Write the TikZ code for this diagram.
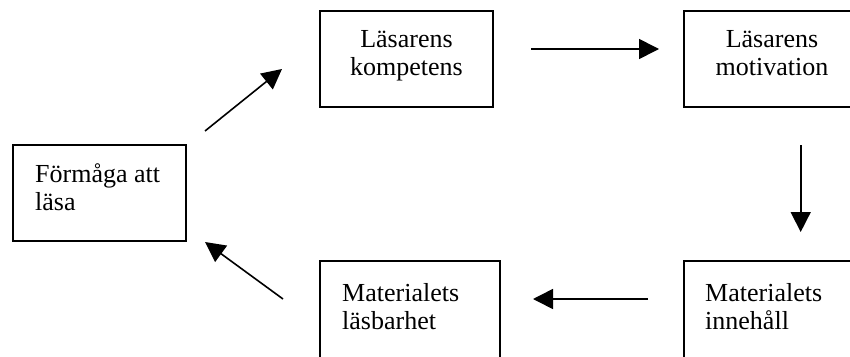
\documentclass[tikz,border=0pt]{standalone}
\usepackage{fontspec}
\setmainfont{Liberation Serif}
\usetikzlibrary{arrows.meta}
\begin{document}
\begin{tikzpicture}[x=1pt,y=-1pt,
  box/.style={draw=black,line width=1.8pt},
  lbl/.style={inner sep=0pt,font=\fontsize{26}{28}\selectfont},
  conn/.style={draw=black,line width=1.6pt,-{Triangle[length=20pt,width=20pt]}}]
\useasboundingbox[fill=white] (0,0) rectangle (850,356);
\clip (0,0) rectangle (850,356);
% boxes
\draw[box] (13,145) rectangle (186,241) node[pos=0.5,inner sep=0pt] (A) {};
\draw[box] (320,11) rectangle (493,107) node[pos=0.5,inner sep=0pt] (B) {};
\draw[box] (684,11) rectangle (860,107) node[pos=0.5,inner sep=0pt] (C) {};
\draw[box] (320,261) rectangle (500,380) node[pos=0.5,inner sep=0pt] (D) {};
\draw[box] (684,261) rectangle (860,380) node[pos=0.5,inner sep=0pt] (E) {};
% labels (anchor base = baseline of the last line)
\node[lbl,anchor=base west,align=left] (tA) at (35,210) {Förmåga att\\läsa};
\node[lbl,anchor=base,align=center] (tB) at (406.5,75) {Läsarens\\kompetens};
\node[lbl,anchor=base,align=center] (tC) at (772,75) {Läsarens\\motivation};
\node[lbl,anchor=base west,align=left] (tD) at (342,329) {Materialets\\läsbarhet};
\node[lbl,anchor=base west,align=left] (tE) at (705,329) {Materialets\\innehåll};
% connector end points
\coordinate (ab1) at (205,131); \coordinate (ab2) at (282,69);
\coordinate (bc1) at (531,49);  \coordinate (bc2) at (659,49);
\coordinate (ce1) at (800.7,145); \coordinate (ce2) at (800.7,232);
\coordinate (ed1) at (648,299); \coordinate (ed2) at (533,299);
\coordinate (da1) at (283,299); \coordinate (da2) at (205,242);
\draw[conn] (ab1) -- (ab2);
\draw[conn] (bc1) -- (bc2);
\draw[conn] (ce1) -- (ce2);
\draw[conn] (ed1) -- (ed2);
\draw[conn] (da1) -- (da2);
\end{tikzpicture}
\end{document}
